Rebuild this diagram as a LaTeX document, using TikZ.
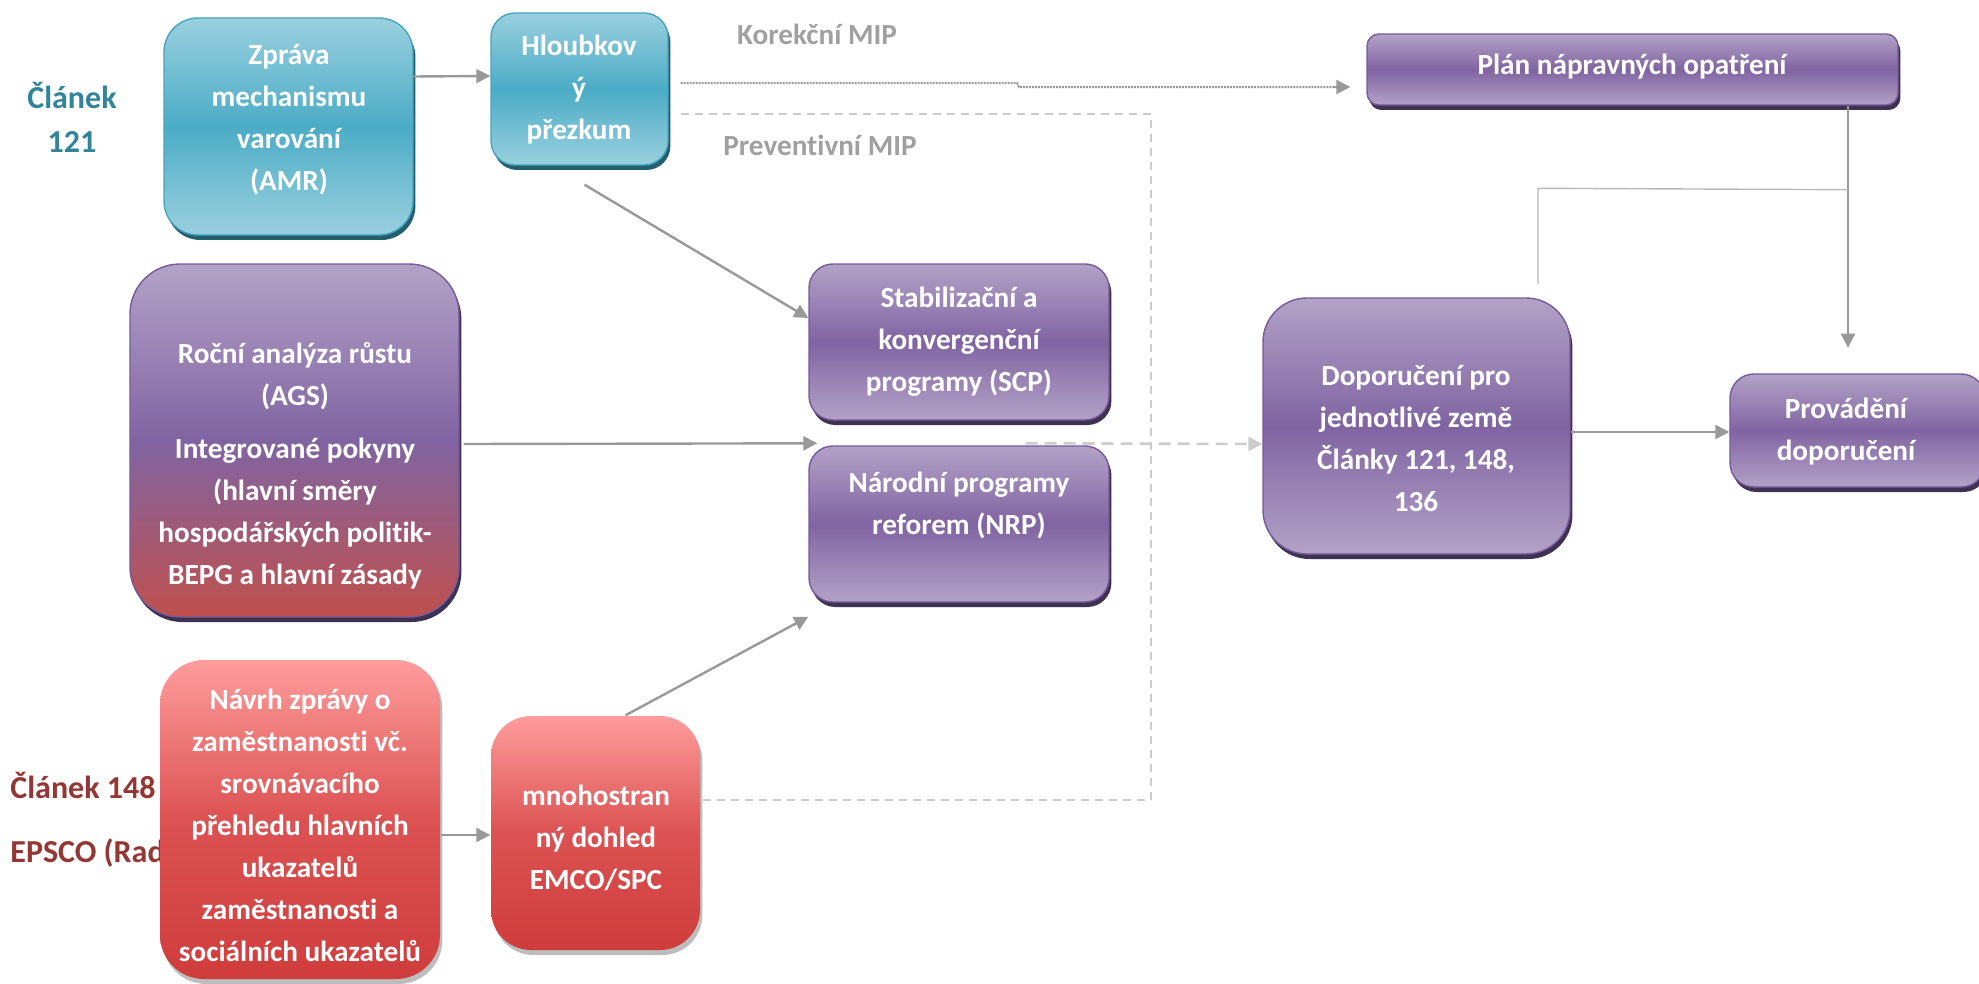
\documentclass[tikz,border=0pt]{standalone}
\usepackage{fontspec}
\setmainfont{Carlito}[Ligatures=NoCommon]
\usetikzlibrary{arrows.meta,shadows,calc}
\definecolor{tealL}{HTML}{9AD0DF}
\definecolor{tealM}{HTML}{4BACC6}
\definecolor{tealB}{HTML}{46A5BF}
\definecolor{tealS}{HTML}{215E6E}
\definecolor{purL}{HTML}{B3A2C7}
\definecolor{purM}{HTML}{8064A2}
\definecolor{purB}{HTML}{765A9A}
\definecolor{purS}{HTML}{3F3151}
\definecolor{redT}{HTML}{FF9C9C}
\definecolor{redM}{HTML}{DC5252}
\definecolor{redB}{HTML}{D03C3C}
\definecolor{redS}{HTML}{BDBDBD}
\definecolor{agsR}{HTML}{C0504D}
\definecolor{artTeal}{HTML}{31849B}
\definecolor{artRed}{HTML}{943634}
\definecolor{lineG}{HTML}{999999}
\definecolor{labG}{HTML}{A0A0A0}
\definecolor{dashG}{HTML}{CCCCCC}
\begin{document}
\begin{tikzpicture}[x=0.5pt,y=-0.5pt,
  box/.style={rectangle, line width=0.7pt, inner sep=0pt},
  tealbox/.style={box, draw=tealB, top color=tealL, bottom color=tealL, middle color=tealM,
    drop shadow={shadow xshift=1.2pt, shadow yshift=-2.5pt, fill=tealS, opacity=1}},
  purbox/.style={box, draw=purB, top color=purL, bottom color=purL, middle color=purM,
    drop shadow={shadow xshift=1.2pt, shadow yshift=-2.5pt, fill=purS, opacity=1}},
  agsbox/.style={box, draw=purB, top color=purL, bottom color=agsR, middle color=purM,
    drop shadow={shadow xshift=1.2pt, shadow yshift=-2.5pt, fill=purS, opacity=1}},
  redbox/.style={box, draw=none, top color=redT, bottom color=redB, middle color=redM,
    drop shadow={shadow xshift=1.2pt, shadow yshift=-2.5pt, fill=redS, opacity=1}},
  txt/.style={font=\bfseries\fontsize{14.6}{21}\selectfont, text=white, align=center, inner sep=0pt},
  lab/.style={font=\bfseries\fontsize{14.6}{21}\selectfont, inner sep=0pt},
  artlab/.style={font=\bfseries\fontsize{16}{22}\selectfont, inner sep=0pt},
  arr/.style={draw=lineG, line width=1.2pt, -{Triangle[length=7pt,width=7pt]}},
]
\useasboundingbox (0,0) rectangle (1979,984);

% side labels
\node[artlab, text=artTeal, align=center] (a121) at (72,117) {Článek\\121};
\node[artlab, text=artRed, anchor=west] (a148) at (10,785) {Článek 148};
\node[artlab, text=artRed, anchor=west] (epsco) at (10,853) {EPSCO (Rad};
\node[lab, text=labG] (kor) at (817,34) {Korekční MIP};
\node[lab, text=labG] (prev) at (820,145) {Preventivní MIP};

% boxes
\node[tealbox, rounded corners=17pt, minimum width=124.5pt, minimum height=108.5pt] (amr) at (288.5,126.5) {};
\node[txt] (amrt) at (289,119.5) {Zpráva\\mechanismu\\varování\\(AMR)};

\node[tealbox, rounded corners=12pt, minimum width=88.5pt, minimum height=76pt] (hl) at (579.5,89) {};
\node[txt] (hlt) at (579,90) {Hloubkov\\ý\\přezkum};

\node[purbox, rounded corners=6pt, minimum width=265.5pt, minimum height=35.5pt] (plan) at (1632.5,69.5) {};
\node[txt] (plant) at (1632,67) {Plán nápravných opatření};

\node[purbox, rounded corners=12pt, minimum width=150pt, minimum height=78pt] (scp) at (959,342) {};
\node[txt] (scpt) at (959,342) {Stabilizační a\\konvergenční\\programy (SCP)};

\node[purbox, rounded corners=12pt, minimum width=150pt, minimum height=78pt] (nrp) at (959,524) {};
\node[txt] (nrpt) at (959,505) {Národní programy\\reforem (NRP)};

\node[agsbox, rounded corners=25pt, minimum width=164.5pt, minimum height=176.5pt] (ags) at (294.5,440.5) {};
\node[txt] (agst) at (295,466) {Roční analýza růstu\\(AGS)\\[5.5pt]Integrované pokyny\\(hlavní směry\\hospodářských politik-\\BEPG a hlavní zásady};

\node[purbox, rounded corners=22pt, minimum width=153.5pt, minimum height=128pt] (dop) at (1416.5,426) {};
\node[txt] (dopt) at (1416,439) {Doporučení pro\\jednotlivé země\\Články 121, 148,\\136};

\node[purbox, rounded corners=12pt, minimum width=127.5pt, minimum height=56.5pt] (prov) at (1857.5,430.5) {};
\node[txt] (provt) at (1846,432) {Provádění\\doporučení};

\node[redbox, rounded corners=22pt, minimum width=140pt, minimum height=159.5pt] (nv) at (300,819.5) {};
\node[txt] (nvt) at (300,825) {Návrh zprávy o\\zaměstnanosti vč.\\srovnávacího\\přehledu hlavních\\ukazatelů\\zaměstnanosti a\\sociálních ukazatelů};

\node[redbox, rounded corners=20pt, minimum width=104.5pt, minimum height=117pt] (mn) at (595.5,833) {};
\node[txt] (mnt) at (596,838) {mnohostran\\ný dohled\\EMCO/SPC};

% connectors
\draw[arr] ([yshift=25pt]amr.east) -- ([yshift=6.5pt]hl.west);

\coordinate (k1) at (1017,83);
\coordinate (k2) at (1019,87);
\draw[draw=lineG, line width=1.1pt, dash pattern=on 1pt off 0.5pt] ([xshift=6pt,yshift=3pt]hl.east) -- (k1) -- (k2) -- ([xshift=-14pt,yshift=-8.75pt]plan.west);
\draw[draw=lineG, line width=1.1pt, -{Triangle[length=7pt,width=7pt]}] ([xshift=-16pt,yshift=-8.75pt]plan.west) -- ([xshift=-8pt,yshift=-8.75pt]plan.west);

\coordinate (pv1) at (1151,114);
\coordinate (pv2) at (1151,800);
\draw[draw=dashG, line width=0.8pt, dash pattern=on 4pt off 3pt] ([xshift=6pt,yshift=-12.5pt]hl.east) -- (pv1) -- (pv2) -- ([yshift=16.5pt]mn.east);

\draw[arr] ($(hl.south)+(5,19)$) -- ($(scp.west)+(0,-24)$);
\draw[arr] ($(ags.east)+(4,3.5)$) -- ($(nrp.north west)+(9,-2)$);
\draw[arr] ($(mn.north)+(30,0)$) -- ($(nrp.south west)+(0,14)$);
\draw[arr] ($(nv.east)+(0,15.5)$) -- ($(mn.west)+(0,2)$);

\draw[draw=dashG, line width=1.3pt, dash pattern=on 6pt off 3.5pt, -{Triangle[length=7pt,width=7pt,fill=dashG]}] ($(nrp.north east)+(-84,-2)$) -- ($(dop.west)+(0,18)$);

\coordinate (pd) at ($(plan.south)+(215.5,0)$);
\coordinate (jn) at ($(pd)+(0,84)$);
\draw[arr] (pd) -- ++(0,242);
\draw[draw=lineG!70, line width=0.7pt] ($(dop.north)+(121.5,-13)$) -- ++(0,-96) -- (jn);

\draw[arr] ($(dop.east)+(0,6)$) -- ($(prov.west)+(0,1.5)$);
\end{tikzpicture}
\end{document}
